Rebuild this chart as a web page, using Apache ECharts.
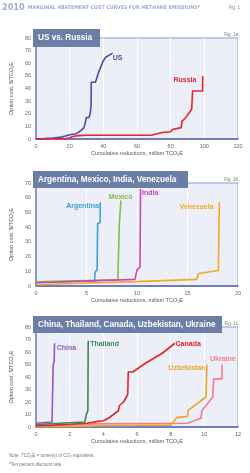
<!DOCTYPE html>
<html><head><meta charset="utf-8">
<script src="https://cdn.jsdelivr.net/npm/echarts@6/dist/echarts.min.js"></script>
<style>html,body{margin:0;padding:0;background:#fff}#c{width:250px;height:473px}</style>
</head><body><div id="c"></div>
<script>
// ---- Panel 1a: US vs Russia ----
const usData = [[0,0],[5,0.3],[10,0.8],[15,1.5],[18,2.5],[20,3.3],[24,4.2],[25,5],[27,7],[28.5,9],[29.5,14],[29.8,17],[31.5,17],[32.3,21],[32.7,27],[32.8,45],[35.3,45],[37.5,54],[40,62],[41.5,65],[43,66],[45.5,68]];
const russiaData = [[0,0],[18,0.3],[20,1],[22,2],[25,2.7],[30,3],[50,3],[69,3.1],[72,4.2],[75,5.2],[80,5.8],[81,7.5],[86.3,9],[86.7,14],[89,17],[92.5,23.5],[93,38],[99,38],[99,50]];
// ---- Panel 1b ----
const argentinaData = [[0,2.5],[5.8,3.5],[5.85,9.5],[6.05,11],[6.1,42.5],[6.35,43],[6.35,57]];
const mexicoData = [[0,2.8],[8.1,4.2],[8.2,4.5],[8.25,42],[8.4,43],[8.4,58]];
const indiaData = [[0,2.2],[9.8,4.5],[9.9,5.5],[10.0,11],[10.3,13],[10.35,66]];
const venezuelaData = [[0,0.8],[5,2],[10,3],[15.9,4.5],[16.1,8.5],[18.05,10.5],[18.15,57]];
// ---- Panel 1c ----
const chinaData = [[0,3],[0.95,4],[1.0,5],[1.02,50],[1.08,52],[1.1,67]];
const thailandData = [[0,2],[2.9,4],[2.95,5.5],[3.0,10.5],[3.08,13],[3.1,69]];
const canadaData = [[0,1],[1,1.5],[2,2.2],[3,3],[3.7,4.5],[4.0,5],[4.3,7],[4.5,9],[4.7,11],[4.9,13],[4.95,17],[5.2,20],[5.45,26],[5.48,44],[5.75,44],[6.5,51],[7.5,59],[8.25,67]];
const uzbekistanData = [[0,0],[4,1],[8,1.5],[8.25,5.5],[8.35,7.5],[9.0,8.5],[9.05,13.5],[10.1,24],[10.15,50]];
const ukraineData = [[0,0.5],[3.5,2.5],[9,3],[9.3,4.5],[9.8,7],[9.85,13],[10.5,24],[10.55,38.5],[11.05,38.5],[11.05,50]];

const panelTitles = ['US vs. Russia','Argentina, Mexico, India, Venezuela','China, Thailand, Canada, Uzbekistan, Ukraine'];
const figLabels = ['Fig. 1a','Fig. 1b','Fig. 1c'];
const xMax = [120, 20, 12];
const xStep = [20, 5, 2];
const yMax = [80, 70, 80];
const yStep = [10, 10, 10];
const xAxisTitle = 'Cumulative reductions, million TCO\u2082E';
const yAxisTitle = 'Option cost, $/TCO\u2082E';

// series: name, data, panel, colour, label anchor (data coords)
const seriesDefs = [
  {name:'US', data:usData, p:0, color:'#4b4ea6', at:[48.5,63.8]},
  {name:'Russia', data:russiaData, p:0, color:'#e8242c', at:[88.5,46.5]},
  {name:'Argentina', data:argentinaData, p:1, color:'#3d9fd6', at:[4.6,54.2]},
  {name:'Mexico', data:mexicoData, p:1, color:'#7fbf45', at:[8.37,60.3]},
  {name:'India', data:indiaData, p:1, color:'#c944c2', at:[11.3,63]},
  {name:'Venezuela', data:venezuelaData, p:1, color:'#f6a623', at:[15.9,53.5]},
  {name:'Ukraine', data:ukraineData, p:2, color:'#f27d86', at:[11.1,54.4]},
  {name:'Uzbekistan', data:uzbekistanData, p:2, color:'#eca429', at:[8.96,47.2]},
  {name:'Canada', data:canadaData, p:2, color:'#e8232a', at:[9.04,66.4]},
  {name:'Thailand', data:thailandData, p:2, color:'#3d8a4c', at:[4.07,66.2]},
  {name:'China', data:chinaData, p:2, color:'#9a52c8', at:[1.81,63.2]}
];

const grids = [
  {left:31, right:12, top:38, height:101},
  {left:31, right:12, top:183, height:103},
  {left:31, right:12, top:327, height:100}
];
const boxes = [
  {x:33, y:29, w:67, h:18},
  {x:33, y:171, w:155, h:17},
  {x:33, y:316, w:189, h:17}
];

const grid = grids.map(g => Object.assign({show:true, backgroundColor:'#eceff8', borderColor:'#8e9dc6', borderWidth:1}, g));
const xAxis = grids.map((g,i) => ({
  type:'value', gridIndex:i, min:0, max:xMax[i], interval:xStep[i],
  name:xAxisTitle, nameLocation:'middle', nameGap:11,
  nameTextStyle:{fontSize:5.5, color:'#555', fontFamily:'Liberation Sans'},
  axisLine:{show:true, lineStyle:{color:'#5566aa', width:1.5}},
  axisTick:{show:false},
  axisLabel:{fontSize:5.5, color:'#666', margin:4, fontFamily:'Liberation Sans'},
  splitLine:{show:true, lineStyle:{color:'#ffffff', width:1}}
}));
const yAxis = grids.map((g,i) => ({
  type:'value', gridIndex:i, min:0, max:yMax[i], interval:yStep[i],
  name:yAxisTitle, nameLocation:'middle', nameGap:19,
  nameTextStyle:{fontSize:5.5, color:'#555', fontFamily:'Liberation Sans'},
  axisLine:{show:true, lineStyle:{color:'#6b7cc0', width:1.5}},
  axisTick:{show:false},
  axisLabel:{fontSize:5.5, color:'#666', margin:5, fontFamily:'Liberation Sans'},
  splitLine:{show:false}
}));

const series = seriesDefs.map(s => ({
  type:'line', name:s.name, xAxisIndex:s.p, yAxisIndex:s.p, data:s.data,
  showSymbol:false, symbol:'none', lineStyle:{color:s.color, width:1.6}, itemStyle:{color:s.color},
  animation:false, z:3,
  markPoint:{symbol:'circle', symbolSize:0, silent:true, animation:false,
    data:[{coord:s.at, value:s.name}],
    label:{show:true, formatter:s.name, color:s.color, fontSize:7, fontWeight:'bold', fontFamily:'Liberation Sans', position:'inside'}}
}));

const graphic = [];
boxes.forEach((b,i) => {
  graphic.push({type:'rect', left:b.x, top:b.y, shape:{width:b.w, height:b.h}, style:{fill:'#6a7ea8'}, z:100});
  graphic.push({type:'text', left:b.x+5, top:b.y+4.5, style:{text:panelTitles[i], fill:'#ffffff', font:'bold 8.2px "Liberation Sans"'}, z:101});
  graphic.push({type:'text', right:12, top:grids[i].top-6, style:{text:figLabels[i], fill:'#777', font:'4.5px "Liberation Sans"'}, z:101});
});
graphic.push({type:'text', left:2, top:2, style:{rich:{a:{fontSize:9, fontWeight:'bold', fill:'#9aaed2', fontFamily:'DejaVu Sans Condensed'}, b:{fontSize:5.2, fontWeight:'bold', fill:'#9aaed2', fontFamily:'DejaVu Sans Condensed'}}, text:'{a|2010} {b|MARGINAL ABATEMENT COST CURVES FOR METHANE EMISSIONS*}'}, z:101});
graphic.push({type:'text', right:10, top:5, style:{text:'Fig. 1', fill:'#888', font:'4.5px "Liberation Sans"'}, z:101});
graphic.push({type:'text', left:9, top:453, style:{text:'Note: TCO\u2082E = tonne(s) of CO\u2082 equivalent.', fill:'#777', font:'4.5px "Liberation Sans"'}, z:101});
graphic.push({type:'text', left:9, top:462, style:{text:'*Ten percent discount rate.', fill:'#777', font:'4.5px "Liberation Sans"'}, z:101});

const chart = echarts.init(document.getElementById('c'), null, {renderer:'canvas'});
chart.setOption({animation:false, backgroundColor:'#ffffff', grid, xAxis, yAxis, series, graphic});
</script></body></html>
